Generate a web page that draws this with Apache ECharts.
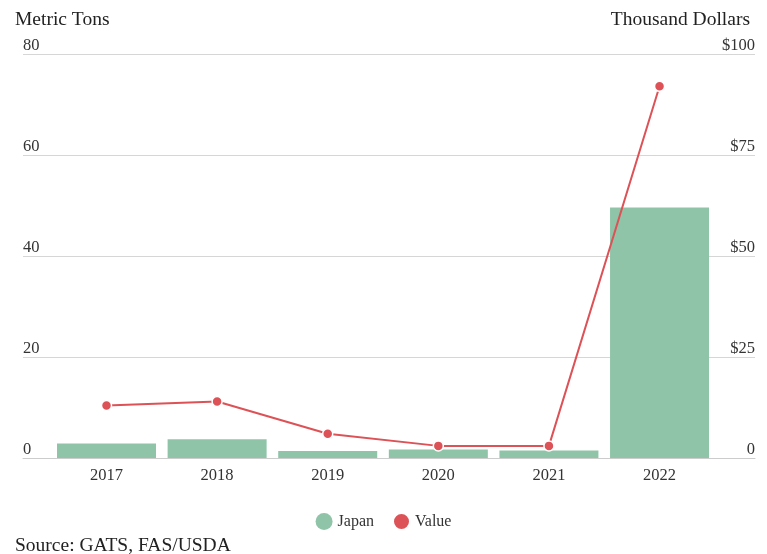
<!DOCTYPE html>
<html>
<head>
<meta charset="utf-8">
<style>
  html, body { margin: 0; padding: 0; background: #fff; }
  #main { width: 767px; height: 554px; }
</style>
<script src="https://cdn.jsdelivr.net/npm/echarts@6/dist/echarts.min.js"></script>
</head>
<body>
<div id="main"></div>
<script>
// data
var years = ['2017', '2018', '2019', '2020', '2021', '2022'];
var japanTons = [2.85, 3.7, 1.4, 1.7, 1.5, 49.6];
var valueK = [13.0, 14.0, 6.0, 3.0, 3.0, 92.0];
var leftTicks = [0, 20, 40, 60, 80];
var rightTicks = [0, 25, 50, 75, 100];

var FONT = '"Liberation Serif", "Times New Roman", serif';
var myChart = echarts.init(document.getElementById('main'));

myChart.setOption({
  animation: false,
  textStyle: { fontFamily: FONT },
  title: [
    { text: 'Metric Tons', left: 10, top: 5, textStyle: { fontFamily: FONT, fontSize: 19.5, fontWeight: 'normal', color: '#222' } },
    { text: 'Thousand Dollars', right: 12, top: 5, textStyle: { fontFamily: FONT, fontSize: 19.5, fontWeight: 'normal', color: '#222' } },
    { text: 'Source: GATS, FAS/USDA', left: 10, top: 531, textStyle: { fontFamily: FONT, fontSize: 19.5, fontWeight: 'normal', color: '#222' } }
  ],
  legend: {
    top: 507,
    left: 'center',
    icon: 'circle',
    itemWidth: 17,
    itemHeight: 17,
    itemGap: 18,
    textStyle: { fontFamily: FONT, fontSize: 16, color: '#333' },
    data: ['Japan', 'Value']
  },
  grid: { left: 23, right: 12, top: 54, bottom: 96 },
  xAxis: {
    type: 'value',
    min: -0.755,
    max: 5.863,
    splitLine: { show: false },
    axisTick: { show: false },
    axisLine: { show: true, lineStyle: { color: '#ccc' } },
    axisLabel: {
      customValues: years.map(function (y, i) { return i; }),
      formatter: function (v) { return years[Math.round(v)]; },
      margin: 9,
      fontFamily: FONT,
      fontSize: 16.5,
      color: '#333'
    }
  },
  yAxis: [{
    type: 'value',
    min: 0,
    max: 80,
    interval: 20,
    axisLine: { show: false },
    axisTick: { show: false },
    splitLine: { lineStyle: { color: '#d6d6d6' } },
    axisLabel: {
      inside: true,
      margin: 0,
      verticalAlign: 'bottom',
      padding: [0, 0, 0, 0],
      fontFamily: FONT,
      fontSize: 16.5,
      color: '#333'
    }
  }, {
    type: 'value',
    min: 0,
    max: 100,
    interval: 25,
    position: 'right',
    axisLine: { show: false },
    axisTick: { show: false },
    splitLine: { show: false },
    axisLabel: {
      inside: true,
      margin: 0,
      verticalAlign: 'bottom',
      padding: [0, 0, 0, 0],
      fontFamily: FONT,
      fontSize: 16.5,
      color: '#333',
      formatter: function (v) { return v === 0 ? '0' : '$' + v; }
    }
  }],
  series: [{
    name: 'Japan',
    type: 'bar',
    yAxisIndex: 0,
    barWidth: 99,
    itemStyle: { color: '#8fc4a8' },
    data: japanTons.map(function (v, i) { return [i, v]; })
  }, {
    name: 'Value',
    type: 'line',
    yAxisIndex: 1,
    symbol: 'circle',
    symbolSize: 10,
    lineStyle: { color: '#dc5256', width: 2 },
    itemStyle: { color: '#dc5256', borderColor: '#fff', borderWidth: 1.5 },
    data: valueK.map(function (v, i) { return [i, v]; })
  }]
});
</script>
</body>
</html>
